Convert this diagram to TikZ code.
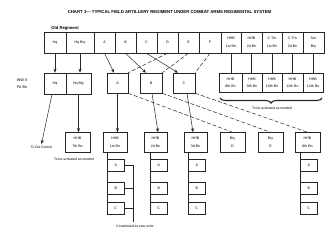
\documentclass[tikz,border=0pt]{standalone}
\usepackage{fontspec}
\setmainfont{Liberation Sans}
\usetikzlibrary{decorations.pathreplacing,arrows.meta}
\begin{document}
\begin{tikzpicture}[x=1pt,y=-1pt,
  bx/.style={draw=black!85, line width=0.5pt, inner sep=0pt, align=center, font=\fontsize{3.6}{7.5}\selectfont},
  sbx/.style={bx, anchor=north west, minimum width=17pt, minimum height=12pt},
  ln/.style={draw=black!85, line width=0.5pt},
  arr/.style={ln, -{Stealth[length=4pt,width=3pt]}},
  dsh/.style={ln, dash pattern=on 4pt off 2pt},
  lbl/.style={inner sep=0pt, align=center, font=\fontsize{3.4}{4}\selectfont}
]
\useasboundingbox (0,0) rectangle (330,238);
% title
\node[inner sep=0pt, font=\fontsize{4.3}{5}\selectfont\bfseries] (title) at (169.5,12) {CHART 3--- TYPICAL FIELD ARTILLERY REGIMENT UNDER COMBAT ARMS REGIMENTAL SYSTEM};
\node[inner sep=0pt, font=\fontsize{4.2}{5}\selectfont\bfseries] (oldreg) at (65,28) {Old Regiment};
% top row
\node[bx,minimum width=22pt,minimum height=21pt] (tHq) at (55,42.5) {Hq};
\node[bx,minimum width=28pt,minimum height=21pt] (tHqB) at (80,42.5) {Hq Bty};
\node[bx,minimum width=21pt,minimum height=21pt] (tA) at (104.5,42.5) {A};
\node[bx,minimum width=21pt,minimum height=21pt] (tB) at (125.5,42.5) {B};
\node[bx,minimum width=21pt,minimum height=21pt] (tC) at (146.5,42.5) {C};
\node[bx,minimum width=21pt,minimum height=21pt] (tD) at (167.5,42.5) {D};
\node[bx,minimum width=21pt,minimum height=21pt] (tE) at (188.5,42.5) {E};
\node[bx,minimum width=22pt,minimum height=21pt] (tF) at (210,42.5) {F};
\node[bx,minimum width=20pt,minimum height=21pt] (tH1) at (231,42.5) {HHB\\1st Bn};
\node[bx,minimum width=21pt,minimum height=21pt] (tH2) at (251.5,42.5) {HHB\\2d Bn};
\node[bx,minimum width=20pt,minimum height=21pt] (tC1) at (272,42.5) {C Trn\\1st Bn};
\node[bx,minimum width=21pt,minimum height=21pt] (tC2) at (292.5,42.5) {C Trn\\2d Bn};
\node[bx,minimum width=21pt,minimum height=21pt] (tS) at (313.5,42.5) {Svc\\Bty};
% second row right
\node[bx,minimum width=23pt,minimum height=19pt] (h8) at (230.5,82.8) {HHB\\8th Bn};
\node[bx,minimum width=20pt,minimum height=19pt] (h9) at (252,82.8) {HHB\\9th Bn};
\node[bx,minimum width=20pt,minimum height=19pt] (h10) at (272,82.8) {HHB\\10th Bn};
\node[bx,minimum width=21pt,minimum height=19pt] (h11) at (292.5,82.8) {HHB\\11th Bn};
\node[bx,minimum width=20pt,minimum height=19pt] (h12) at (313,82.8) {HHB\\12th Bn};
\foreach \a/\b in {tH1/h8,tH2/h9,tC1/h10,tC2/h11,tS/h12}
  \draw[ln] (\a.south) -- (\a.south |- \b.north);
\coordinate (brL) at (220,98);
\coordinate (brR) at (322,98);
\draw[decorate, decoration={brace, mirror, amplitude=5pt}, line width=1.1pt, black!85] (brL) -- (brR);
\node[lbl] (act1) at (272,108.5) {To be activated as needed};
% WW II row
\node[lbl, align=left, font=\fontsize{3.8}{7}\selectfont] (ww) at (22,83.5) {WW II\\FA Bn};
\node[bx,minimum width=22pt,minimum height=21pt] (wHq) at (55,83.5) {Hq};
\node[bx,minimum width=25pt,minimum height=21pt] (wHqB) at (78.5,83.5) {Hq Bty};
\node[bx,minimum width=21pt,minimum height=20pt] (wA) at (117.5,83) {A};
\node[bx,minimum width=22pt,minimum height=20pt] (wB) at (151,83) {B};
\node[bx,minimum width=22pt,minimum height=20pt] (wC) at (184,83) {C};
\draw[arr] (tHq.south) -- (tHq.south |- wHq.north);
\draw[arr] (tHqB.south) -- (tHqB.south |- wHqB.north);
\draw[arr] (tA.south) -- ([xshift=-3.5pt]wA.north);
\draw[arr] (tB.south) -- ([xshift=-5pt]wB.north);
\draw[arr] (tC.south) -- ([xshift=-6pt]wC.north);
\draw[dsh] (tD.south) -- (wA.north east);
\draw[dsh] (tE.south) -- (wB.north east);
\draw[dsh] (tF.south) -- (wC.north east);
% lower row
\node[lbl, inner sep=1.5pt] (da) at (41.5,147) {To DA Control};
\node[bx,minimum width=25pt,minimum height=20pt] (b7) at (77.5,142.5) {HHB\\7th Bn};
\node[lbl] (act2) at (74,159) {To be activated as needed};
\node[bx,minimum width=24pt,minimum height=20pt] (b1) at (115,142.5) {HHB\\1st Bn};
\node[bx,minimum width=23pt,minimum height=20pt] (b2) at (155.5,142.5) {HHB\\2d Bn};
\node[bx,minimum width=23pt,minimum height=20pt] (b3) at (195.5,142.5) {HHB\\3d Bn};
\node[bx,minimum width=25pt,minimum height=20pt] (bD) at (232.5,142.5) {Bty\\D};
\node[bx,minimum width=25pt,minimum height=20pt] (bE) at (270.5,142.5) {Bty\\E};
\node[bx,minimum width=25pt,minimum height=20pt] (b6) at (307.5,142.5) {HHB\\6th Bn};
\draw[arr] ([xshift=-3pt]wHq.south) -- (da.north);
\draw[arr] (wHqB.south) -- (wHqB.south |- b7.north);
\draw[arr] (wA.south) -- (wA.south |- b1.north);
\draw[arr] ([xshift=1pt]wB.south) -- ([xshift=2.5pt]b2.north);
\draw[arr] ([xshift=3pt]wC.south) -- ([xshift=-2.5pt]b3.north);
\draw[dsh] (wA.south east) -- (bD.north);
\draw[dsh] (wB.south east) -- (bE.north);
\draw[dsh] (wC.south east) -- (b6.north);
% columns of A B C
\foreach \n/\hb/\x in {1/b1/107,2/b2/150,3/b3/188,4/b6/300}{
  \node[sbx] (a\n) at (\x,159) {A};
  \node[sbx] (bb\n) at (\x,182) {B};
  \node[sbx] (c\n) at (\x,202) {C};
  \draw[ln] (\hb.south -| a\n.west) -- (c\n.south west);
}
\coordinate (k2) at (133,222);
\draw[ln] (a1.east) -| (k2);
\draw[ln] (bb1.east) -- (bb1.east -| k2);
\draw[ln] (c1.east) -- (c1.east -| k2);
\node[lbl] (cons) at (135,226.5) {Constituted as new units};
\end{tikzpicture}
\end{document}
